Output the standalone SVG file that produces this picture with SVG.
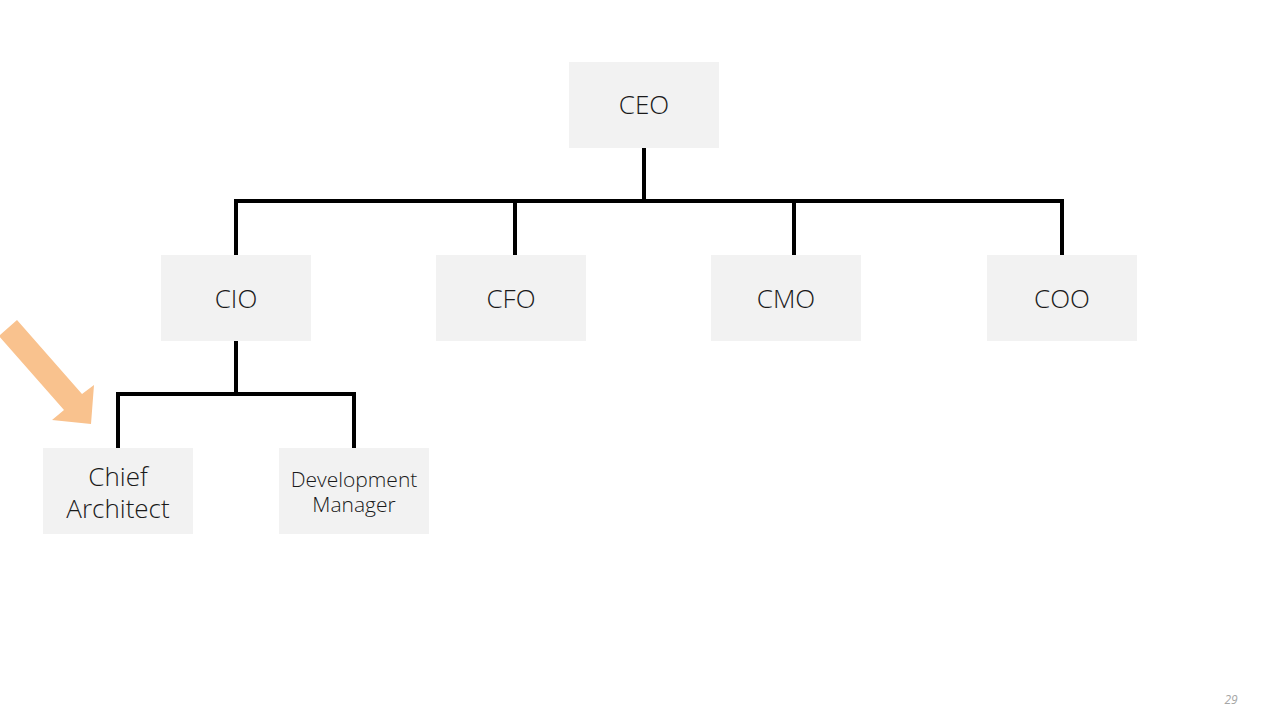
<svg xmlns="http://www.w3.org/2000/svg" width="1288" height="725" viewBox="0 0 1288 725">
<style>
.box{fill:#f2f2f2}
.t{font-family:"Open Sans","Liberation Sans",sans-serif;font-weight:300;fill:#1a1a1a;text-anchor:middle}
.l{font-size:26px}
.s{font-size:21px}
.c{stroke:#000;stroke-width:4;fill:none}
</style>
<rect width="1288" height="725" fill="#fff"/>
<g id="connectors">
<path class="c" d="M644 148V201M236 201H1062M236 199V255M515 201V255M794 201V255M1062 199V255"/>
<path class="c" d="M236 341V394M118 394H354M118 392V448M354 392V448"/>
</g>
<g id="ceo"><rect class="box" x="569" y="62" width="150" height="86"/><text class="t l" x="644" y="114">CEO</text></g>
<g id="cio"><rect class="box" x="161" y="255" width="150" height="86"/><text class="t l" x="236" y="308">CIO</text></g>
<g id="cfo"><rect class="box" x="436" y="255" width="150" height="86"/><text class="t l" x="511" y="308">CFO</text></g>
<g id="cmo"><rect class="box" x="711" y="255" width="150" height="86"/><text class="t l" x="786" y="308">CMO</text></g>
<g id="coo"><rect class="box" x="987" y="255" width="150" height="86"/><text class="t l" x="1062" y="308">COO</text></g>
<g id="chief-architect"><rect class="box" x="43" y="448" width="150" height="86"/><text class="t l" x="118" y="486">Chief</text><text class="t l" x="118" y="518">Architect</text></g>
<g id="development-manager"><rect class="box" x="279" y="448" width="150" height="86"/><text class="t s" x="354" y="487">Development</text><text class="t s" x="354" y="512">Manager</text></g>
<polygon id="arrow" fill="#f9c28e" points="-1,336 17,320 82,394 94,385 91,424 52,420 64,410"/>
<text x="1231" y="704" font-family="'Open Sans','Liberation Sans',sans-serif" font-style="italic" font-size="12" fill="#a6a6a6" text-anchor="middle">29</text>
</svg>
